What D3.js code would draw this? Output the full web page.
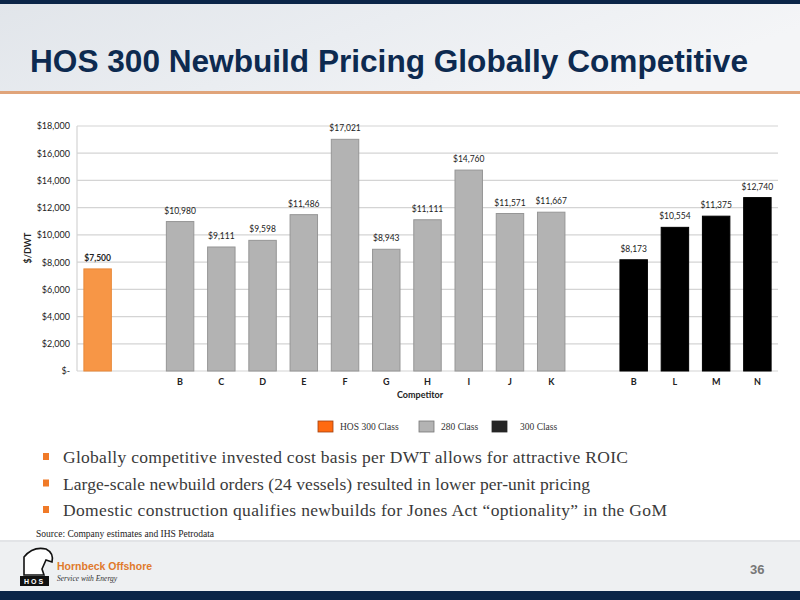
<!DOCTYPE html>
<html><head><meta charset="utf-8">
<script src="https://cdn.jsdelivr.net/npm/d3@7"></script>
<style>body{margin:0;background:#fff}svg{display:block}</style>
</head><body>
<script>
// ---- data ----
const categories = ["HOS", "gap1", "B", "C", "D", "E", "F", "G", "H", "I", "J", "K", "gap2", "B2", "L", "M", "N"];
const tickLabels = ["", "", "B", "C", "D", "E", "F", "G", "H", "I", "J", "K", "", "B", "L", "M", "N"];
const values = [7500, null, 10980, 9111, 9598, 11486, 17021, 8943, 11111, 14760, 11571, 11667, null, 8173, 10554, 11375, 12740];
const classes = ["HOS 300 Class", null, "280 Class", "280 Class", "280 Class", "280 Class", "280 Class", "280 Class", "280 Class", "280 Class", "280 Class", "280 Class", null, "300 Class", "300 Class", "300 Class", "300 Class"];
const yTicks = [0, 2000, 4000, 6000, 8000, 10000, 12000, 14000, 16000, 18000];
const legendNames = ["HOS 300 Class", "280 Class", "300 Class"];
const bullets = [
  "Globally competitive invested cost basis per DWT allows for attractive ROIC",
  "Large-scale newbuild orders (24 vessels) resulted in lower per-unit pricing",
  "Domestic construction qualifies newbuilds for Jones Act \u201coptionality\u201d in the GoM"
];
const bulletWidths = [565, 527, 604];

const W = 800, H = 600;
const svg = d3.select("body").append("svg").attr("width", W).attr("height", H);
const defs = svg.append("defs");
const g1 = defs.append("linearGradient").attr("id", "hdr").attr("x1", 0).attr("x2", 1).attr("y1", 0).attr("y2", 0.3);
g1.append("stop").attr("offset", "0").attr("stop-color", "#e1e5ea");
g1.append("stop").attr("offset", "0.5").attr("stop-color", "#eaedf1");
g1.append("stop").attr("offset", "1").attr("stop-color", "#f4f5f7");

// header
svg.append("rect").attr("x", 0).attr("y", 0).attr("width", W).attr("height", 92).attr("fill", "url(#hdr)");
svg.append("rect").attr("x", 0).attr("y", 0).attr("width", W).attr("height", 4).attr("fill", "#0b2548");
svg.append("rect").attr("x", 0).attr("y", 91).attr("width", W).attr("height", 3).attr("fill", "#e0a47a");
svg.append("text").attr("x", 30).attr("y", 72)
  .attr("font-family", "Liberation Sans, Arial, sans-serif").attr("font-weight", "bold")
  .attr("font-size", 31).attr("fill", "#0d2a50").attr("textLength", 718).attr("lengthAdjust", "spacingAndGlyphs")
  .text("HOS 300 Newbuild Pricing Globally Competitive");

// chart
const colorFill = {"HOS 300 Class": "#f79646", "280 Class": "#b3b3b3", "300 Class": "#000000"};
const colorStroke = {"HOS 300 Class": "#e8893a", "280 Class": "#969696", "300 Class": "#000000"};
const x0 = 77, x1 = 778, yTop = 126, yBot = 371;
const x = d3.scaleBand().domain(categories).range([x0, x1]).paddingInner(0.31).paddingOuter(0.155);
const y = d3.scaleLinear().domain([0, 18000]).range([yBot, yTop]);
const chart = svg.append("g");
const fmt = d3.format(",");

// grid
chart.append("g").selectAll("line").data(yTicks).join("line")
  .attr("x1", x0).attr("x2", x1).attr("y1", d => y(d)).attr("y2", d => y(d))
  .attr("stroke", "#d4d4d4").attr("stroke-width", 1.2);
chart.append("line").attr("x1", x0).attr("x2", x0).attr("y1", yTop).attr("y2", yBot).attr("stroke", "#d4d4d4").attr("stroke-width", 1.2);

// y axis
const yAxis = d3.axisLeft(y).tickValues(yTicks).tickSize(0).tickPadding(7)
  .tickFormat(d => d === 0 ? "$-" : "$" + fmt(d));
const ya = chart.append("g").attr("transform", `translate(${x0},0)`).call(yAxis);
ya.select(".domain").remove();
ya.selectAll("text").attr("font-family", "Lato, Open Sans, sans-serif").attr("font-size", 9).attr("fill", "#222");

// x axis
const xAxis = d3.axisBottom(x).tickSize(0).tickPadding(8).tickFormat((d, i) => tickLabels[i]);
const xa = chart.append("g").attr("transform", `translate(0,${yBot})`).call(xAxis);
xa.select(".domain").remove();
xa.selectAll("text").attr("font-family", "Lato, Open Sans, sans-serif").attr("font-size", 9).attr("font-weight", "bold").attr("fill", "#222");

const rows = categories.map((c, i) => ({c, v: values[i], cls: classes[i], i})).filter(d => d.v != null);
chart.append("g").selectAll("rect").data(rows).join("rect")
  .attr("x", d => x(d.c) + 0.5).attr("width", x.bandwidth() - 1)
  .attr("y", d => y(d.v)).attr("height", d => yBot - y(d.v))
  .attr("fill", d => colorFill[d.cls]).attr("stroke", d => colorStroke[d.cls]).attr("stroke-width", 1);
chart.append("g").selectAll("text").data(rows).join("text")
  .attr("x", d => x(d.c) + x.bandwidth() / 2).attr("y", d => y(d.v) - 8)
  .attr("text-anchor", "middle").attr("font-family", "Lato, Open Sans, sans-serif").attr("font-size", 8.5)
  .attr("font-weight", d => d.i === 0 ? "bold" : "normal").attr("fill", "#222")
  .text(d => "$" + fmt(d.v));

// axis titles
chart.append("text").attr("transform", "translate(31,248) rotate(-90)").attr("text-anchor", "middle")
  .attr("font-family", "Lato, Open Sans, sans-serif").attr("font-size", 9).attr("font-weight", "bold").attr("fill", "#222").text("$/DWT");
chart.append("text").attr("x", 420).attr("y", 398).attr("text-anchor", "middle")
  .attr("font-family", "Lato, Open Sans, sans-serif").attr("font-size", 9).attr("font-weight", "bold").attr("fill", "#222").text("Competitor");

// legend
const legColors = {"HOS 300 Class": "#ff6a10", "280 Class": "#b3b3b3", "300 Class": "#262626"};
const legStroke = {"HOS 300 Class": "#a04010", "280 Class": "#777", "300 Class": "#262626"};
const legX = [318, 419, 492];
const lg = svg.append("g").selectAll("g").data(legendNames).join("g").attr("transform", (d, i) => `translate(${legX[i]},421)`);
lg.append("rect").attr("width", 15).attr("height", 11).attr("fill", d => legColors[d]).attr("stroke", d => legStroke[d]).attr("stroke-width", 0.8);
lg.append("text").attr("x", (d, i) => i === 2 ? 28 : 22).attr("y", 9).attr("font-family", "Liberation Serif, serif").attr("font-size", 9.5).attr("fill", "#333").text(d => d);

// bullets
const bg = svg.append("g").selectAll("g").data(bullets).join("g").attr("transform", (d, i) => `translate(0,${463 + i * 26.5})`);
bg.append("rect").attr("x", 43).attr("y", -10).attr("width", 6).attr("height", 7).attr("fill", "#f07a28");
bg.append("text").attr("x", 63).attr("y", 0).attr("font-family", "Liberation Serif, serif").attr("font-size", 17.5).attr("fill", "#3a3a3a")
  .attr("textLength", (d, i) => bulletWidths[i]).attr("lengthAdjust", "spacing").text(d => d);

svg.append("text").attr("x", 36).attr("y", 537).attr("font-family", "Liberation Serif, serif").attr("font-size", 9.5).attr("fill", "#222")
  .text("Source: Company estimates and IHS Petrodata");

// footer
svg.append("rect").attr("x", 0).attr("y", 540).attr("width", W).attr("height", 52).attr("fill", "#eef0f2");
svg.append("rect").attr("x", 0).attr("y", 540).attr("width", W).attr("height", 2).attr("fill", "#e2e4e7");
svg.append("rect").attr("x", 0).attr("y", 591).attr("width", W).attr("height", 9).attr("fill", "#0b2548");
// logo
const logo = svg.append("g");
logo.append("path").attr("d", "M24,557 Q33,546 46,549 Q54,553 52,562 L46,560 L42,569 L44,575 L24,575 Z").attr("fill", "#fff").attr("stroke", "#111").attr("stroke-width", 1.6);
logo.append("rect").attr("x", 20).attr("y", 576).attr("width", 29).attr("height", 10).attr("fill", "#111");
logo.append("text").attr("x", 34.5).attr("y", 584).attr("text-anchor", "middle").attr("font-family", "Liberation Sans, sans-serif").attr("font-size", 7).attr("font-weight", "bold").attr("fill", "#fff").attr("letter-spacing", 2).text("HOS");
svg.append("text").attr("x", 57).attr("y", 570).attr("font-family", "Liberation Sans, Arial, sans-serif").attr("font-weight", "bold").attr("font-size", 10.5).attr("fill", "#e07a2c").text("Hornbeck Offshore");
svg.append("text").attr("x", 57).attr("y", 581).attr("font-family", "Liberation Serif, serif").attr("font-style", "italic").attr("font-size", 7.5).attr("fill", "#333").text("Service with Energy");
svg.append("text").attr("x", 750).attr("y", 574).attr("font-family", "Liberation Sans, Arial, sans-serif").attr("font-weight", "bold").attr("font-size", 13).attr("fill", "#777").text("36");
</script>
</body></html>
